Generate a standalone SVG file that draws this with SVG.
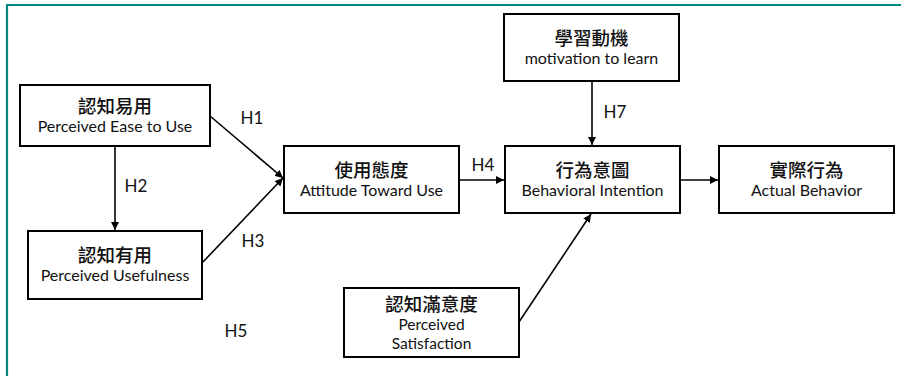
<svg xmlns="http://www.w3.org/2000/svg" width="901" height="376" viewBox="0 0 901 376">
<defs>
<style>
.box{fill:#fff;stroke:#000;stroke-width:2}
.zh{font-family:"Noto Sans CJK TC","Noto Sans CJK SC",sans-serif;font-size:18.5px;font-weight:500;fill:#111;text-anchor:middle}
.en{font-family:Lato,"Liberation Sans",sans-serif;font-size:16px;fill:#111;text-anchor:middle}
.en2{font-family:Lato,"Liberation Sans",sans-serif;font-size:15.5px;fill:#111;text-anchor:middle}
.lbl{font-family:Lato,"Liberation Sans",sans-serif;font-size:17px;fill:#111;text-anchor:middle}
.ln{stroke:#000;stroke-width:1.6;fill:none;marker-end:url(#ah)}
</style>
<marker id="ah" viewBox="0 0 10 10" refX="10" refY="5" markerWidth="5" markerHeight="5" orient="auto" markerUnits="strokeWidth">
<path d="M0,0 L10,5 L0,10 z" fill="#000"/>
</marker>
</defs>
<rect width="901" height="376" fill="#fff"/>
<path d="M7,376 V5 H901" fill="none" stroke="#00897b" stroke-width="2.2"/>

<g id="connectors">
<path class="ln" d="M210,116 L283,178"/>
<path class="ln" d="M202,263 L283,178"/>
<path class="ln" d="M115,146 V230"/>
<path class="ln" d="M459,180 H504"/>
<path class="ln" d="M592,81 V145"/>
<path class="ln" d="M680,180 H718"/>
<path class="ln" d="M519,322 L591,214"/>
</g>

<g id="labels">
<text class="lbl" x="252" y="124">H1</text>
<text class="lbl" x="136" y="192">H2</text>
<text class="lbl" x="253" y="247">H3</text>
<text class="lbl" x="483" y="171">H4</text>
<text class="lbl" x="236" y="337">H5</text>
<text class="lbl" x="615" y="118">H7</text>
</g>

<g id="node-peou">
<rect class="box" x="20" y="85" width="190" height="61"/>
<text class="zh" x="115" y="113">認知易用</text>
<text class="en" x="115" y="132">Perceived Ease to Use</text>
</g>
<g id="node-pu">
<rect class="box" x="28" y="231" width="174" height="68"/>
<text class="zh" x="115" y="262">認知有用</text>
<text class="en" x="115" y="281">Perceived Usefulness</text>
</g>
<g id="node-att">
<rect class="box" x="284" y="146" width="175" height="67"/>
<text class="zh" x="371.5" y="177">使用態度</text>
<text class="en" x="371.5" y="196">Attitude Toward Use</text>
</g>
<g id="node-bi">
<rect class="box" x="505" y="146" width="175" height="67"/>
<text class="zh" x="592.5" y="177">行為意圖</text>
<text class="en" x="592.5" y="196">Behavioral Intention</text>
</g>
<g id="node-mot">
<rect class="box" x="504" y="14" width="175" height="67"/>
<text class="zh" x="591.5" y="45">學習動機</text>
<text class="en" x="591.5" y="64">motivation to learn</text>
</g>
<g id="node-ab">
<rect class="box" x="719" y="146" width="175" height="67"/>
<text class="zh" x="806.5" y="177">實際行為</text>
<text class="en" x="806.5" y="196">Actual Behavior</text>
</g>
<g id="node-ps">
<rect class="box" x="344" y="288" width="175" height="69"/>
<text class="zh" x="431.5" y="311">認知滿意度</text>
<text class="en2" x="431.5" y="330">Perceived</text>
<text class="en2" x="431.5" y="349">Satisfaction</text>
</g>
</svg>
